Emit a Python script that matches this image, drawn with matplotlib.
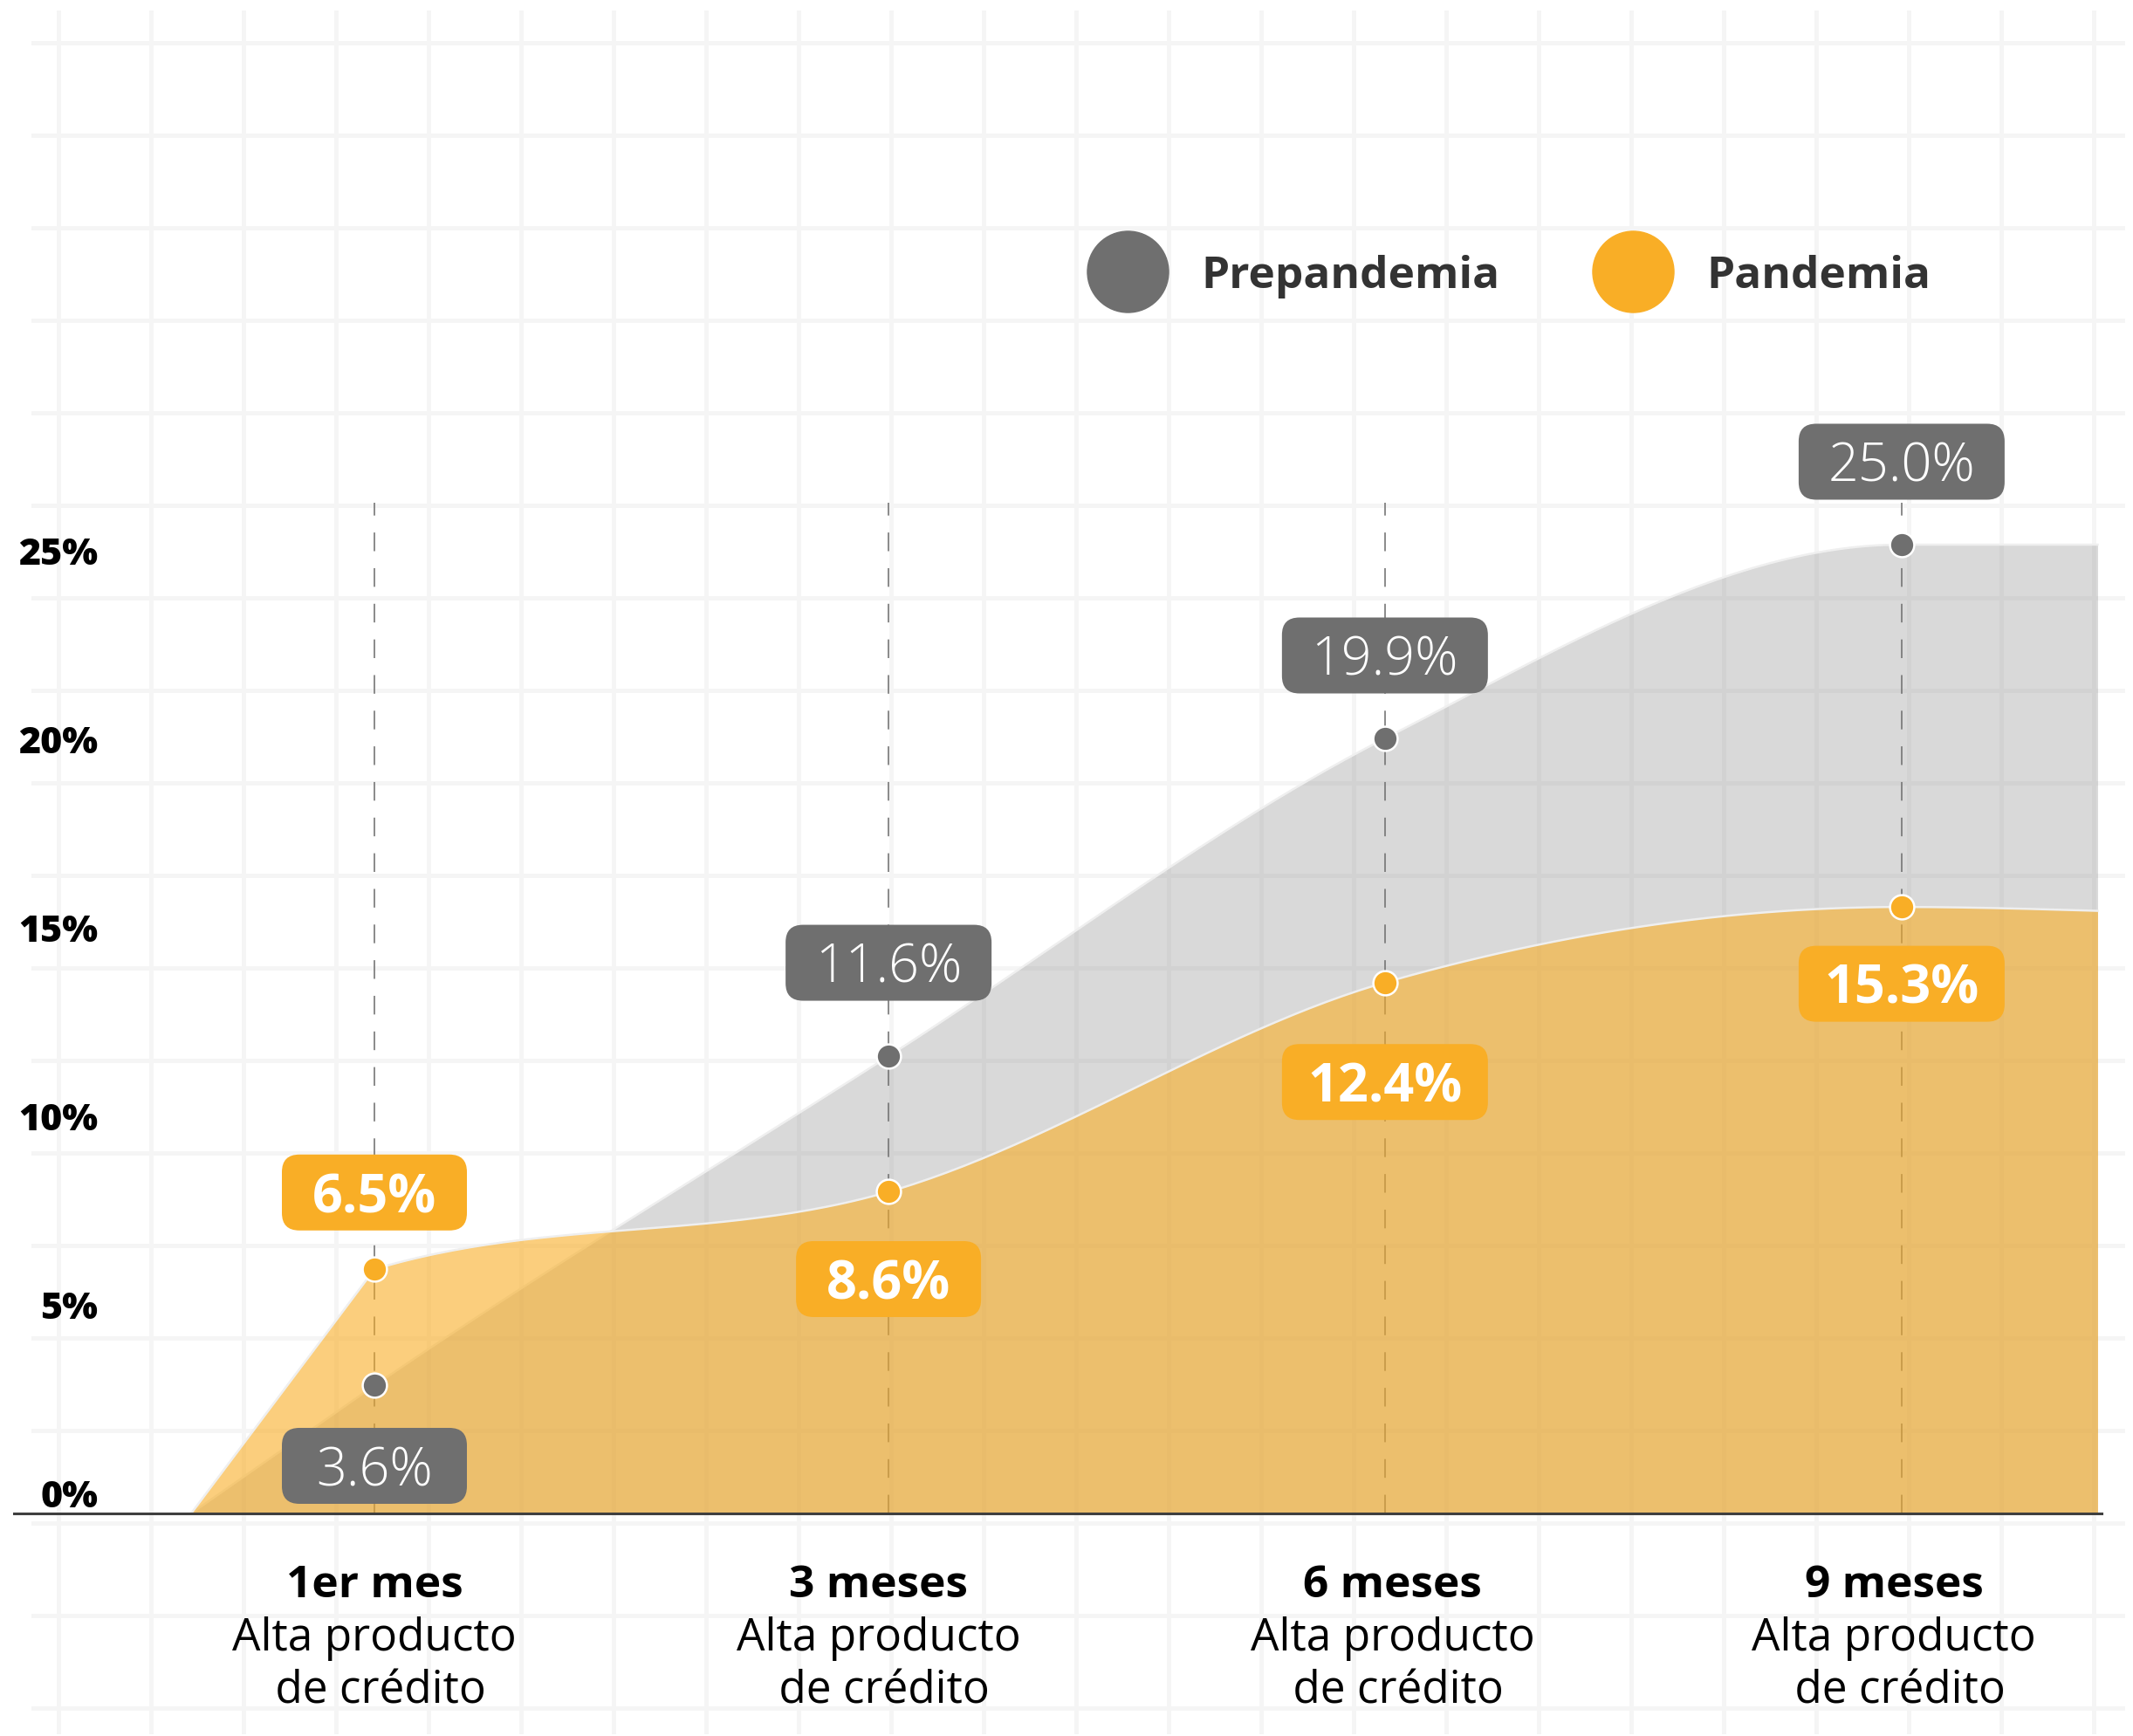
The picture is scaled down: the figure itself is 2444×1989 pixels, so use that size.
import numpy as np
import matplotlib
matplotlib.use("Agg")
import matplotlib.pyplot as plt
from matplotlib.lines import Line2D
from matplotlib.patches import FancyBboxPatch
import matplotlib.transforms as mtransforms

# ---------------- data ----------------
categories = ["1er mes", "3 meses", "6 meses", "9 meses"]
category_sub1 = ["Alta producto"] * 4
category_sub2 = [" de crédito"] * 4
series_names = ["Prepandemia", "Pandemia"]
# values as drawn in the picture (percent)
prepandemia = [3.3, 11.8, 20.0, 25.0]
pandemia = [6.3, 8.3, 13.7, 15.65]
prepandemia_labels = ["3.6%", "11.6%", "19.9%", "25.0%"]
pandemia_labels = ["6.5%", "8.6%", "12.4%", "15.3%"]
x_start, x_end = -0.36, 3.385
prepandemia_start, prepandemia_end = 0.0, 25.0
pandemia_start, pandemia_end = 0.0, 15.55
y_ticks = [0, 5, 10, 15, 20, 25]
y_tick_labels = ["0%", "5%", "10%", "15%", "20%", "25%"]

# ---------------- style / layout ----------------
W, H, DPI = 2444, 1990, 100
GRAY = "#6f6f6f"
ORANGE = "#f9ae26"
plt.rcParams["font.family"] = ["Open Sans", "DejaVu Sans"]
cat_pos = [0.0, 1.01, 1.985, 3.0]       # horizontal placement of the points
label_pos = [0.0, 0.99, 2.0, 2.985]     # horizontal placement of the category texts


def monotone_x(xs, ys, n=60, linear_first=True):
    """d3.curveMonotoneX style interpolation (first segment drawn straight)."""
    xs = np.asarray(xs, float)
    ys = np.asarray(ys, float)
    h = np.diff(xs)
    s = np.diff(ys) / h
    m = len(xs)
    t = np.zeros(m)
    sgn = lambda v: -1.0 if v < 0 else 1.0
    for i in range(1, m - 1):
        s0, s1, h0, h1 = s[i - 1], s[i], h[i - 1], h[i]
        p = (s0 * h1 + s1 * h0) / (h0 + h1)
        t[i] = (sgn(s0) + sgn(s1)) * min(abs(s0), abs(s1), 0.5 * abs(p))
    t[0] = (3 * s[0] - t[1]) / 2
    t[-1] = (3 * s[-1] - t[-2]) / 2
    X, Y = [], []
    u = np.linspace(0, 1, n)
    for i in range(m - 1):
        dx = h[i] / 3
        if i == 0 and linear_first:
            P = np.array([[xs[0], ys[0]],
                          [xs[0] + dx, ys[0] + dx * s[0]],
                          [xs[1] - dx, ys[1] - dx * s[0]],
                          [xs[1], ys[1]]])
        else:
            P = np.array([[xs[i], ys[i]],
                          [xs[i] + dx, ys[i] + dx * t[i]],
                          [xs[i + 1] - dx, ys[i + 1] - dx * t[i + 1]],
                          [xs[i + 1], ys[i + 1]]])
        b = ((1 - u) ** 3)[:, None] * P[0] + (3 * (1 - u) ** 2 * u)[:, None] * P[1] \
            + (3 * (1 - u) * u ** 2)[:, None] * P[2] + (u ** 3)[:, None] * P[3]
        if i > 0:
            b = b[1:]
        X.extend(b[:, 0]); Y.extend(b[:, 1])
    return np.array(X), np.array(Y)


fig = plt.figure(figsize=(W / DPI, H / DPI), dpi=DPI, facecolor="white")

# background square grid (decoration)
ident = mtransforms.IdentityTransform()
gx = 67
while gx < W:
    fig.add_artist(Line2D([gx, gx], [H - 15, H - 1985], transform=ident,
                          color="#f5f5f5", lw=3.6, zorder=-5))
    gx += 106
gy = 50
while gy < H:
    fig.add_artist(Line2D([38, 2432], [H - gy, H - gy], transform=ident,
                          color="#f5f5f5", lw=3.6, zorder=-5))
    gy += 106

# axes geometry (pixels from top)
AX_L, AX_R, AX_B, AX_T = 16, 2408, 1735, 15
PX_PER_PCT = 44.4
ax = fig.add_axes([AX_L / W, 1 - AX_B / H, (AX_R - AX_L) / W, (AX_B - AX_T) / H])
ax.patch.set_alpha(0)
ax.set_zorder(1)

cat_x = np.asarray(cat_pos)
xp = np.concatenate([[x_start], cat_x, [x_end]])
yp_pre = np.concatenate([[prepandemia_start], prepandemia, [prepandemia_end]])
yp_pan = np.concatenate([[pandemia_start], pandemia, [pandemia_end]])
cx1, cy1 = monotone_x(xp, yp_pre)
cx2, cy2 = monotone_x(xp, yp_pan)

# dashed guides (below areas)
for x in cat_x:
    ax.plot([x, x], [0, 26.08], color="#8a8a8a", lw=1.4, dashes=(11, 10), zorder=1)

ax.fill_between(cx1, 0, cy1, color=GRAY, alpha=0.26, lw=0, zorder=2)
ax.plot(cx1, cy1, color="#efefef", lw=1.8, zorder=2.5)
ax.fill_between(cx2, 0, cy2, color=ORANGE, alpha=0.6, lw=0, zorder=3)
ax.plot(cx2, cy2, color="#efefef", lw=1.8, zorder=3.5)

ax.plot(cat_x, prepandemia, "o", ms=20, mfc=GRAY, mec="white", mew=1.8, zorder=5)
ax.plot(cat_x, pandemia, "o", ms=20, mfc=ORANGE, mec="white", mew=1.8, zorder=5)

# value labels in rounded boxes
FS_VAL = 44
cap = 0.714 * FS_VAL * DPI / 72
pre_off = [-92, 107, 95, 95]
pan_off = [88, -100, -114, -88]


def value_box(x, y, text, dy, color, weight):
    ax.annotate(text, xy=(x, y), xytext=(0, dy - cap / 2), textcoords="offset pixels",
                ha="center", va="baseline", fontsize=FS_VAL, color="white",
                fontweight=weight, zorder=8, annotation_clip=False)
    w = 116 + 24 * len(text)
    h = 87
    box = FancyBboxPatch((-w / 2, dy - h / 2), w, h,
                         boxstyle="round,pad=0,rounding_size=20",
                         transform=mtransforms.ScaledTranslation(x, y, ax.transData),
                         facecolor=color, edgecolor="none", zorder=7, clip_on=False)
    ax.add_artist(box)


for x, v, lab, off in zip(cat_x, prepandemia, prepandemia_labels, pre_off):
    value_box(x, v, lab, off, GRAY, 300)
for x, v, lab, off in zip(cat_x, pandemia, pandemia_labels, pan_off):
    value_box(x, v, lab, off, ORANGE, "bold")

# category labels
for x, c, s1, s2 in zip(label_pos, categories, category_sub1, category_sub2):
    ax.annotate(c, xy=(x, 0), xytext=(0, -95), textcoords="offset pixels", ha="center",
                va="baseline", fontsize=37, fontweight="bold", color="black", annotation_clip=False)
    ax.annotate(s1, xy=(x, 0), xytext=(0, -156), textcoords="offset pixels", ha="center",
                va="baseline", fontsize=37, color="black", annotation_clip=False)
    ax.annotate(s2, xy=(x, 0), xytext=(0, -217), textcoords="offset pixels", ha="center",
                va="baseline", fontsize=37, color="black", annotation_clip=False)

ax.set_xlim((AX_L - 429) / 583.3, (AX_R - 429) / 583.3)
ax.set_ylim(0, (AX_B - AX_T) / PX_PER_PCT)
ax.set_xticks([])
ax.set_yticks([])
for sp in ["left", "right", "top"]:
    ax.spines[sp].set_visible(False)
ax.spines["bottom"].set_color("#3f3f3f")
ax.spines["bottom"].set_linewidth(2.2)
ax.spines["bottom"].set_zorder(6)

# y tick labels on a twin scale
ay = ax.twinx()
ay.set_ylim(-24 / 43.2, (1711 - AX_T) / 43.2)
ay.yaxis.tick_left()
ay.set_yticks(y_ticks)
ay.set_yticklabels(y_tick_labels, fontsize=31, fontweight=800, color="black")
ay.tick_params(axis="y", length=0, pad=-(112 - AX_L) * 0.72)
for sp in ay.spines.values():
    sp.set_visible(False)
ay.set_xticks([])

# legend
handles = [Line2D([], [], ls="none", marker="o", ms=67, mfc=c, mec=c) for c in (GRAY, ORANGE)]
FS_LEG = 37
em = FS_LEG * DPI / 72
leg = fig.legend(handles, series_names, loc="center left", bbox_to_anchor=(1245 / W, 1 - 317 / H),
                 ncol=2, frameon=False, borderpad=0, borderaxespad=0,
                 handlelength=93 / em, handletextpad=38 / em, columnspacing=106 / em,
                 prop={"size": FS_LEG, "weight": "bold"})
for t in leg.get_texts():
    t.set_color("#333333")

fig.savefig("out.png", dpi=DPI, facecolor="white")
